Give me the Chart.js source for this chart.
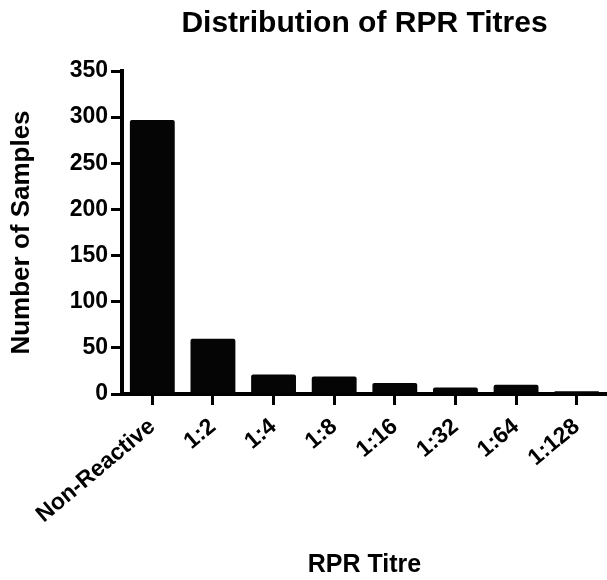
<!DOCTYPE html>
<html>
<head>
<meta charset="utf-8">
<script src="https://cdn.jsdelivr.net/npm/chart.js@4/dist/chart.umd.min.js"></script>
<style>
  html, body { margin: 0; padding: 0; background: #fff; }
  #wrap { width: 607px; height: 580px; position: relative; }
</style>
</head>
<body>
<div id="wrap"><canvas id="c"></canvas></div>
<script>
const chartTitle = "Distribution of RPR Titres";
const xTitle = "RPR Titre";
const yTitle = "Number of Samples";
const categories = ["Non-Reactive", "1:2", "1:4", "1:8", "1:16", "1:32", "1:64", "1:128"];
const sampleCounts = [297, 60, 21, 19, 12, 7, 10, 3];
const yMin = 0, yMax = 350, yStep = 50;

const FONT = "'Liberation Sans', Arial, Helvetica, sans-serif";

const titlePlugin = {
  id: 'centerTitle',
  afterDraw(chart) {
    const ctx = chart.ctx;
    const a = chart.chartArea;
    ctx.save();
    ctx.font = "bold 30px " + FONT;
    ctx.fillStyle = "#000";
    ctx.textAlign = "center";
    ctx.textBaseline = "middle";
    ctx.fillText(chartTitle, (a.left + a.right) / 2, 24);
    ctx.restore();
  }
};

new Chart(document.getElementById('c'), {
  type: 'bar',
  data: {
    labels: categories,
    datasets: [{
      data: sampleCounts,
      backgroundColor: '#050505',
      borderWidth: 0,
      borderRadius: 2,
      borderSkipped: 'bottom',
      barPercentage: 0.74,
      categoryPercentage: 1.0
    }]
  },
  options: {
    responsive: true,
    maintainAspectRatio: false,
    animation: false,
    layout: { padding: { top: 71, right: 0, bottom: 0, left: 0 } },
    plugins: {
      legend: { display: false },
      tooltip: { enabled: false },
      title: { display: false }
    },
    scales: {
      x: {
        type: 'category',
        offset: true,
        afterFit(scale) { scale.height = 186; },
        grid: {
          offset: false,
          display: true,
          drawOnChartArea: false,
          drawTicks: true,
          tickLength: 11,
          tickWidth: 3,
          tickColor: '#000',
          color: '#000'
        },
        border: { display: true, color: '#000', width: 4 },
        ticks: {
          color: '#000',
          font: { family: FONT, size: 23, weight: 'bold' },
          minRotation: 40,
          maxRotation: 40,
          padding: 8,
          autoSkip: false
        },
        title: {
          display: true,
          text: xTitle,
          color: '#000',
          font: { family: FONT, size: 25, weight: 'bold' },
          padding: { top: 1, bottom: 0 }
        }
      },
      y: {
        min: yMin,
        max: yMax,
        afterFit(scale) { scale.width = 122; },
        grid: {
          display: true,
          drawOnChartArea: false,
          drawTicks: true,
          tickLength: 11,
          tickWidth: 3,
          tickColor: '#000',
          color: '#000'
        },
        border: { display: true, color: '#000', width: 4 },
        ticks: {
          stepSize: yStep,
          color: '#000',
          font: { family: FONT, size: 23, weight: 'bold' },
          padding: 3
        },
        title: {
          display: true,
          text: yTitle,
          color: '#000',
          font: { family: FONT, size: 26, weight: 'bold' },
          padding: { top: 6, bottom: 6 }
        }
      }
    }
  },
  plugins: [titlePlugin]
});
</script>
</body>
</html>
